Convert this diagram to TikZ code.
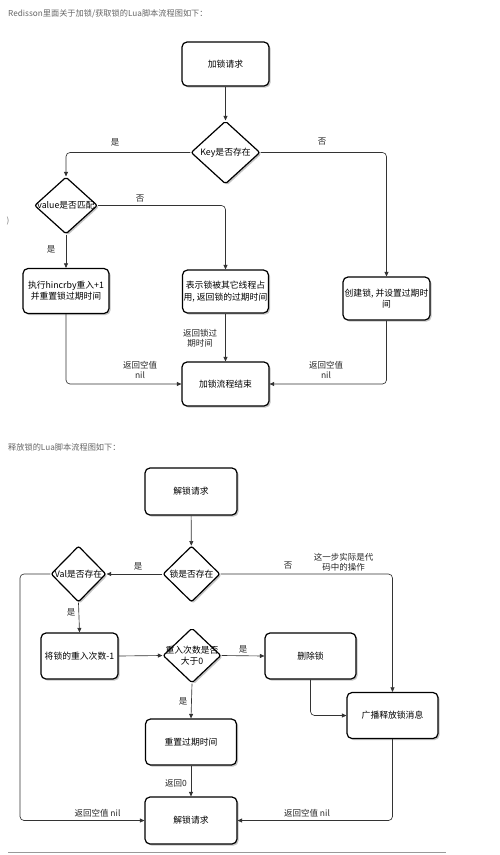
\documentclass[tikz,border=0pt]{standalone}
\usepackage{fontspec}
\setmainfont{Noto Sans CJK SC}
\usetikzlibrary{arrows.meta,shapes.geometric,shadows}
\begin{document}
\begin{tikzpicture}[x=1pt,y=-1pt,
  shd/.style={drop shadow={shadow xshift=1.6pt,shadow yshift=-1.6pt,fill=black!45}},
  box/.style={draw=black,line width=1.2pt,rounded corners=5pt,minimum width=87pt,minimum height=44pt,inner sep=1pt,align=center,font=\fontsize{8.8}{11.3}\selectfont,fill=white,shd},
  dia/.style={draw=black,line width=1.2pt,diamond,rounded corners=2pt,inner sep=0pt,fill=white,shd},
  txt/.style={font=\fontsize{8.8}{11.3}\selectfont,align=center,inner sep=0pt},
  lbl/.style={font=\fontsize{8.5}{10.3}\selectfont,align=center,inner sep=0pt,text=black!85},
  conn/.style={draw=black!80,line width=0.65pt,rounded corners=4pt,-{Triangle[length=4.5pt,width=4pt]}},
  plain/.style={draw=black!80,line width=0.65pt,rounded corners=4pt},
  hdr/.style={font=\fontsize{8.2}{10}\selectfont,text=black!60,anchor=west,inner sep=0pt}
]
\fill[white] (0,0) rectangle (500,855);
\useasboundingbox (0,0) rectangle (500,855);

% ---------- header 1 ----------
\node[hdr] (h1) at (8,14) {Redisson里面关于加锁/获取锁的Lua脚本流程图如下：};
\node[font=\fontsize{8}{10}\selectfont,text=black!55,inner sep=0pt] (stray) at (8,221) {)};

% ---------- top chart ----------
\node[box] (s1) at (225.5,64) {加锁请求};
\node[dia,minimum width=69pt,minimum height=63pt] (k) at (225.5,152.5) {};
\node[txt] (kt) at (k) {Key是否存在};
\node[dia,minimum width=63pt,minimum height=57pt] (v) at (66,205.5) {};
\node[txt] (vt) at (v) {value是否匹配};
\node[box,minimum width=86pt,minimum height=45pt] (b1) at (66,291) {执行hincrby重入+1\\并重置锁过期时间};
\node[box,minimum width=86pt,minimum height=43pt] (b2) at (225.5,291.5) {表示锁被其它线程占\\用, 返回锁的过期时间};
\node[box,minimum width=87pt,minimum height=43pt] (b3) at (386.5,298.5) {创建锁, 并设置过期时\\间};
\node[box,minimum width=87pt,minimum height=44pt] (e1) at (225.5,384) {加锁流程结束};

\draw[conn] (s1) -- (k);
\draw[conn] (k.west) -| (v.north);
\draw[conn] (k.east) -| (b3.north);
\draw[conn] (v.east) -| (b2.north);
\draw[conn] (v.south) -- (b1.north);
\draw[conn] (b2.south) -- (e1.north);
\draw[conn] (b1.south) |- (e1.west);
\draw[conn] (b3.south) |- (e1.east);

\node[lbl] (l1) at (115,142) {是};
\node[lbl] (l2) at (322,142) {否};
\node[lbl] (l3) at (140,199) {否};
\node[lbl] (l4) at (51,249) {是};
\node[lbl] (l5) at (200,338) {返回锁过\\期时间};
\node[lbl] (l6) at (140,370) {返回空值\\nil};
\node[lbl] (l7) at (326,370) {返回空值\\nil};

% ---------- header 2 ----------
\node[hdr] (h2) at (8,447) {释放锁的Lua脚本流程图如下：};

% ---------- bottom chart ----------
\node[box,minimum width=92pt,minimum height=47pt] (s2) at (191,491.5) {解锁请求};
\node[dia,minimum width=57pt,minimum height=56pt] (d3) at (191.5,574) {};
\node[txt] (d3t) at (d3) {锁是否存在};
\node[dia,minimum width=55pt,minimum height=56pt] (d4) at (78.5,574) {};
\node[txt] (d4t) at (d4) {Val是否存在};
\node[box,minimum width=77pt,minimum height=46pt] (b4) at (79.5,656) {将锁的重入次数-1};
\node[dia,minimum width=58pt,minimum height=55pt] (d5) at (192,655.5) {};
\node[txt] (d5t) at (d5) {重入次数是否\\大于0};
\node[box,minimum width=91pt,minimum height=46pt] (b5) at (310.5,656) {删除锁};
\node[box,minimum width=91pt,minimum height=46pt] (b6) at (191,742) {重置过期时间};
\node[box,minimum width=91pt,minimum height=46pt] (b7) at (392.5,715.5) {广播释放锁消息};
\node[box,minimum width=92pt,minimum height=47pt] (e2) at (191,820.5) {解锁请求};
\coordinate (lc) at (20,574);

\draw[conn] (s2) -- (d3);
\draw[conn] (d3.west) -- (d4.east);
\draw[conn] (d3.east) -| (b7.north);
\draw[conn] (d4.south) -- (b4.north);
\draw[conn] (d4.west) -- (lc) |- (e2.west);
\draw[conn] (b4.east) -- (d5.west);
\draw[conn] (d5.east) -- (b5.west);
\draw[conn] (d5.south) -- (b6.north);
\draw[conn] (b5.south) |- (b7.west);
\draw[conn] (b7.south) |- (e2.east);
\draw[conn] (b6.south) -- (e2.north);

\node[lbl] (m1) at (138,566) {是};
\node[lbl] (m2) at (288,566) {否};
\node[lbl] (m3) at (343.5,562.5) {这一步实际是代\\码中的操作};
\node[lbl] (m4) at (71,612) {是};
\node[lbl] (m5) at (243,649) {是};
\node[lbl] (m6) at (183,701) {是};
\node[lbl] (m7) at (176,783) {返回0};
\node[lbl] (m8) at (97.5,813) {返回空值 nil};
\node[lbl] (m9) at (307,813) {返回空值 nil};

\draw[black!40,line width=0.8pt] (8,852) -- (446,852);
\end{tikzpicture}
\end{document}
